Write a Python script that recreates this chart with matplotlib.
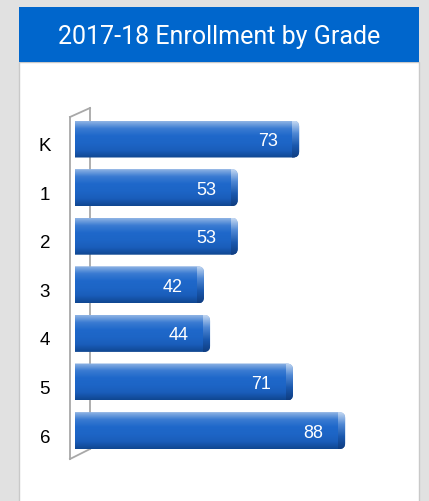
import numpy as np
import matplotlib.pyplot as plt
from matplotlib.patches import Rectangle, FancyBboxPatch
from matplotlib.colors import LinearSegmentedColormap
from matplotlib.lines import Line2D

grades = ["K", "1", "2", "3", "4", "5", "6"]
enrollment = [73, 53, 53, 42, 44, 71, 88]
title = "2017-18 Enrollment by Grade"

W, H = 429, 501
PX_PER_UNIT = 3.07
ROW = 48.6
Y0 = 139  # pixel row of the first bar centre

fig = plt.figure(figsize=(W / 100, H / 100), dpi=100)
fig.patch.set_facecolor("#e1e1e1")

# white card + blue header
fig.patches.append(Rectangle((19 / W, -0.01), 400 / W, (501 - 62) / H + 0.01,
                             transform=fig.transFigure, facecolor="white",
                             edgecolor="#c9c9c9", lw=1, zorder=-3))
fig.patches.append(Rectangle((19 / W, 1 - 62 / H), 400 / W, 55 / H,
                             transform=fig.transFigure, facecolor="#0066cc",
                             edgecolor="none", zorder=-2))
fig.text(219 / W, 1 - 37 / H, title, color="white", fontsize=18,
         family="Roboto", ha="center", va="center")

ax_left, ax_right, ax_top, ax_bot = 75, 400, 100, 470
ax = fig.add_axes([ax_left / W, 1 - ax_bot / H, (ax_right - ax_left) / W,
                   (ax_bot - ax_top) / H])
ax.set_zorder(1)
ax.patch.set_visible(False)
ax.axis("off")


def px_to_data(x, y):
    return (x - ax_left) / PX_PER_UNIT, (y - Y0) / ROW


# 3d-ish wall on the left
wall = [((70, 117), (70, 459)), ((90, 108), (90, 449)),
        ((70, 117), (90, 108)), ((70, 459), (90, 449))]
for (x0, y0), (x1, y1) in wall:
    a = px_to_data(x0, y0)
    b = px_to_data(x1, y1)
    ax.add_line(Line2D([a[0], b[0]], [a[1], b[1]], color="#a8a8a8", lw=1.3,
                       clip_on=False, zorder=1))

body = LinearSegmentedColormap.from_list(
    "body", ["#8fb4e4", "#3a7bd2", "#1f68ca", "#1d65c6", "#1a5dba", "#0f4690"])
cap = LinearSegmentedColormap.from_list(
    "cap", ["#c4d8f2", "#4f88d4", "#1a58ae", "#0f3d80"])

bh = 37 / ROW
grad = np.linspace(0, 1, 200).reshape(-1, 1)
rx = 6 / PX_PER_UNIT
asp = PX_PER_UNIT / ROW
lab_off = 7.5 / ROW
val_off = 2.5 / ROW
for i, (g, v) in enumerate(zip(grades, enrollment)):
    clip = FancyBboxPatch((-3, i - bh / 2), v + 3, bh,
                          boxstyle=f"round,pad=0,rounding_size={rx}",
                          mutation_aspect=asp, transform=ax.transData,
                          facecolor="none", edgecolor="none")
    ax.add_patch(clip)
    im = ax.imshow(grad, extent=[0, v, i + bh / 2, i - bh / 2], cmap=body,
                   aspect="auto", zorder=2, interpolation="bilinear")
    im.set_clip_path(clip)
    capw = 7 / PX_PER_UNIT
    im2 = ax.imshow(grad, extent=[v - capw, v, i + bh / 2, i - bh / 2],
                    cmap=cap, aspect="auto", zorder=3, interpolation="bilinear")
    im2.set_clip_path(clip)
    ax.text(v - 7, i + val_off, str(v), color="white", fontsize=13,
            family="Liberation Sans", ha="right", va="center", zorder=4)
    ax.text(-9.8, i + lab_off, g, color="black", fontsize=13.5,
            family="Liberation Sans", ha="center", va="center", clip_on=False)

ax.set_xlim(0, (ax_right - ax_left) / PX_PER_UNIT)
ax.set_ylim((ax_bot - Y0) / ROW, (ax_top - Y0) / ROW)

fig.savefig("out.png", dpi=100, facecolor=fig.get_facecolor())
